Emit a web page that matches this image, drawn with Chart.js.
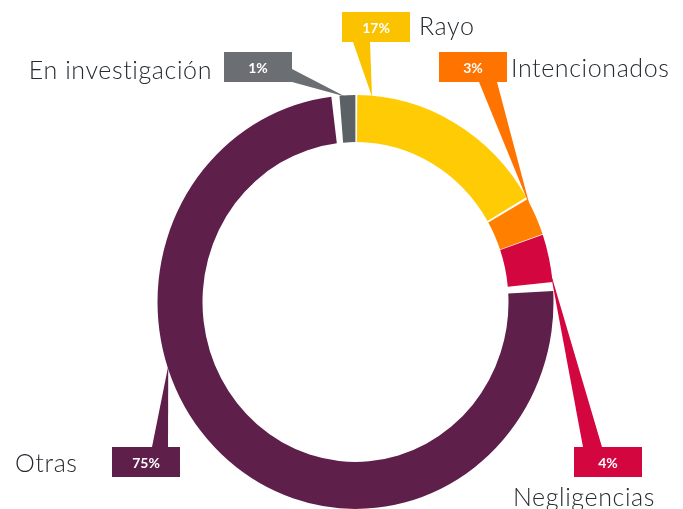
<!DOCTYPE html>
<html><head><meta charset="utf-8">
<style>html,body{margin:0;padding:0;background:#fff;overflow:hidden}canvas{display:block}</style>
<script src="https://cdn.jsdelivr.net/npm/chart.js@4.4.1/dist/chart.umd.min.js"></script>
</head><body>
<canvas id="c" width="683" height="509"></canvas>
<script>
// ---- data ----
const categories = ['Rayo', 'Intencionados', 'Negligencias', 'Otras', 'En investigación'];
const values = [16.7, 3.0, 3.8, 75.2, 1.3];
const percentLabels = ['17%', '3%', '4%', '75%', '1%'];

// ---- styles / layout ----
const ringColors = ['#FFCB04', '#FF8000', '#D4063F', '#5E1F4B', '#5C6166'];
const boxColors  = ['#FBC200', '#FF7300', '#D4063F', '#5E1F4B', '#6B6F73'];
const STRETCH_Y = 1.045;
const SPACING = 6;
const BOX_W = 68, BOX_H = 30;
const callouts = [
  {box:[342,12],  side:'bottom', from:11, to:28, at:0.08,  tx:419, ty:35,  align:'left'},
  {box:[439,52],  side:'bottom', from:40, to:58, at:0.20,  tx:511, ty:77,  align:'left'},
  {box:[574,447], side:'top',    from:9,  to:28, at:0.78,  tx:513, ty:506, align:'left'},
  {box:[112,447], side:'top',    from:40, to:56, at:0.618, tx:15,  ty:472, align:'left'},
  {box:[224,52],  side:'right',  from:17, to:30, at:0.35,  tx:212, ty:79,  align:'right'}
];

const stretch = {
  id: 'stretch',
  beforeDatasetsDraw(chart) {
    const a = chart.getDatasetMeta(0).data[0];
    const ctx = chart.ctx;
    ctx.save();
    ctx.translate(a.x, a.y);
    ctx.scale(1, STRETCH_Y);
    ctx.translate(-a.x, -a.y);
  },
  afterDatasetsDraw(chart) { chart.ctx.restore(); }
};

const calloutPlugin = {
  id: 'callouts',
  afterDraw(chart) {
    const ctx = chart.ctx;
    const arcs = chart.getDatasetMeta(0).data;
    callouts.forEach((c, i) => {
      const arc = arcs[i];
      const ang = arc.startAngle + c.at * (arc.endAngle - arc.startAngle);
      const R = arc.outerRadius + SPACING / 2 - 1;
      const tipX = arc.x + R * Math.cos(ang);
      const tipY = arc.y + R * Math.sin(ang) * STRETCH_Y;
      const [bx, by] = c.box;
      let p1, p2;
      if (c.side === 'bottom') { p1 = [bx + c.from, by + BOX_H]; p2 = [bx + c.to, by + BOX_H]; }
      else if (c.side === 'top') { p1 = [bx + c.from, by]; p2 = [bx + c.to, by]; }
      else { p1 = [bx + BOX_W, by + c.from]; p2 = [bx + BOX_W, by + c.to]; }
      ctx.save();
      ctx.fillStyle = boxColors[i];
      ctx.beginPath();
      ctx.moveTo(p1[0], p1[1]);
      ctx.lineTo(tipX, tipY);
      ctx.lineTo(p2[0], p2[1]);
      ctx.closePath();
      ctx.fill();
      ctx.fillRect(bx, by, BOX_W, BOX_H);
      ctx.fillStyle = '#ffffff';
      ctx.font = 'bold 14px Lato, "Open Sans", sans-serif';
      ctx.textAlign = 'center';
      ctx.textBaseline = 'middle';
      ctx.fillText(percentLabels[i], bx + BOX_W / 2, by + BOX_H / 2 + 1);
      ctx.fillStyle = '#262B30';
      ctx.font = '300 25px Lato, "Open Sans", sans-serif';
      if ('letterSpacing' in ctx) ctx.letterSpacing = '0.6px';
      ctx.textAlign = c.align;
      ctx.textBaseline = 'alphabetic';
      ctx.fillText(categories[i], c.tx, c.ty);
      ctx.restore();
    });
  }
};

new Chart(document.getElementById('c'), {
  type: 'doughnut',
  data: {
    labels: categories,
    datasets: [{
      data: values,
      backgroundColor: ringColors,
      borderWidth: 0,
      spacing: SPACING
    }]
  },
  options: {
    responsive: false,
    animation: false,
    cutout: 150,
    rotation: 0,
    layout: { padding: { left: 157.5, right: 129.5, top: 104, bottom: 9 } },
    plugins: { legend: { display: false }, tooltip: { enabled: false } }
  },
  plugins: [stretch, calloutPlugin]
});
</script>
</body></html>
